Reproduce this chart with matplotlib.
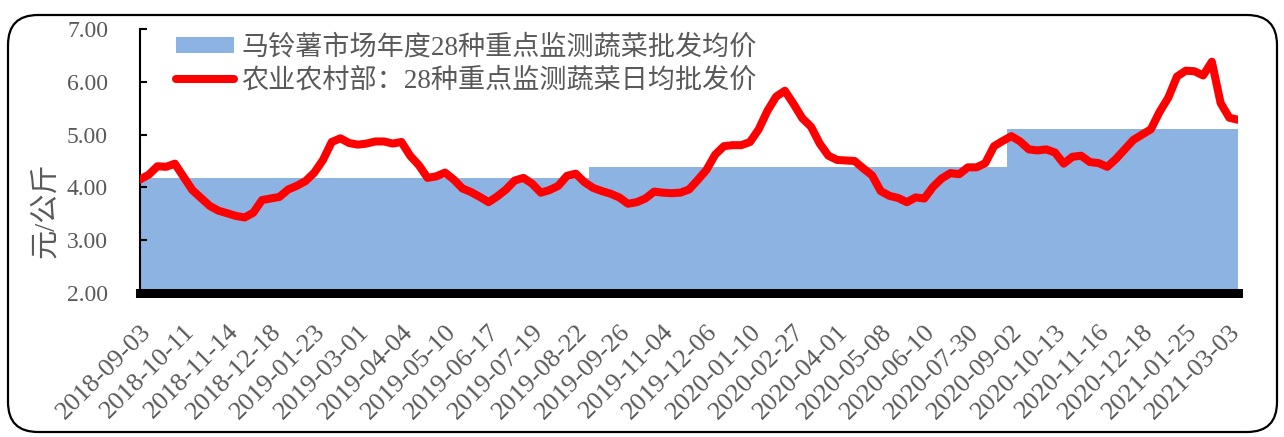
import numpy as np
import matplotlib
matplotlib.use('Agg')
import matplotlib.pyplot as plt
from matplotlib.patches import FancyBboxPatch, Patch
from matplotlib.lines import Line2D
from matplotlib.transforms import IdentityTransform

plt.rcParams['font.family'] = ['Liberation Serif', 'Noto Sans CJK SC']

# ---------------- data ----------------
tick_labels = [
    '2018-09-03', '2018-10-11', '2018-11-14', '2018-12-18', '2019-01-23',
    '2019-03-01', '2019-04-04', '2019-05-10', '2019-06-17', '2019-07-19',
    '2019-08-22', '2019-09-26', '2019-11-04', '2019-12-06', '2020-01-10',
    '2020-02-27', '2020-04-01', '2020-05-08', '2020-06-10', '2020-07-30',
    '2020-09-02', '2020-10-13', '2020-11-16', '2020-12-18', '2021-01-25',
    '2021-03-03',
]
days_per_tick = 25      # trading days between labelled dates
days_per_week = 5       # trading days between weekly readings

# 农业农村部 28种重点监测蔬菜日均批发价 (weekly readings, 元/公斤)
weekly_price = [
    4.15, 4.24, 4.40, 4.39, 4.45, 4.20, 3.95, 3.80, 3.65, 3.56,
    3.51, 3.46, 3.43, 3.52, 3.76, 3.79, 3.82, 3.96, 4.03, 4.12,
    4.28, 4.52, 4.86, 4.93, 4.84, 4.81, 4.83, 4.87, 4.87, 4.83,
    4.86, 4.60, 4.42, 4.18, 4.21, 4.28, 4.15, 3.98, 3.91, 3.82,
    3.72, 3.83, 3.96, 4.13, 4.18, 4.07, 3.90, 3.95, 4.03, 4.22,
    4.26, 4.10, 3.99, 3.93, 3.88, 3.81, 3.69, 3.72, 3.79, 3.92,
    3.90, 3.89, 3.90, 3.96, 4.14, 4.33, 4.62, 4.78, 4.80, 4.80,
    4.86, 5.10, 5.45, 5.72, 5.83, 5.58, 5.31, 5.15, 4.83, 4.60,
    4.52, 4.51, 4.50, 4.36, 4.23, 3.93, 3.84, 3.80, 3.72, 3.81,
    3.79, 4.01, 4.17, 4.27, 4.25, 4.38, 4.38, 4.46, 4.78, 4.88,
    4.97, 4.87, 4.72, 4.70, 4.72, 4.66, 4.45, 4.58, 4.60, 4.48,
    4.46, 4.39, 4.54, 4.72, 4.90, 5.00, 5.10, 5.43, 5.70, 6.10,
    6.21, 6.20, 6.12, 6.38, 5.60, 5.32, 5.28,
]

# 马铃薯市场年度 28种重点监测蔬菜批发均价
season_avg = [4.17, 4.38, 5.10]
season_weeks = [52, 48, 27]

legend_labels = ['马铃薯市场年度28种重点监测蔬菜批发均价',
                 '农业农村部：28种重点监测蔬菜日均批发价']
y_ticks = [2, 3, 4, 5, 6, 7]
y_label = '元/公斤'

# ---------------- style ----------------
W, H = 1284, 437
BLUE = '#8DB3E2'
RED = '#FF0000'
GRAY = '#595959'

fig = plt.figure(figsize=(W / 100, H / 100), dpi=100)
ax = fig.add_axes([140 / W, (H - 293) / H, 1098 / W, (293 - 29) / H])

x = np.arange(len(weekly_price)) * days_per_week
blue = np.repeat(season_avg, season_weeks)

ax.fill_between(x, 0, blue, step='mid', color=BLUE, lw=0, zorder=1)
ax.plot(x, weekly_price, color=RED, lw=5.8, solid_joinstyle='round',
        solid_capstyle='round', zorder=3)

ax.set_xlim(x[0], x[-1])
ax.set_ylim(2, 7)

ax.set_xticks(np.arange(len(tick_labels)) * days_per_tick)
ax.set_xticklabels(tick_labels, rotation=45, ha='right', va='top',
                   rotation_mode='anchor', fontsize=19, color=GRAY)
ax.tick_params(axis='x', length=0, pad=20)

ax.set_yticks(y_ticks)
ax.set_yticklabels([f'{v:.2f}' for v in y_ticks], fontsize=17, color=GRAY)
ax.tick_params(axis='y', direction='in', length=5, width=1.5, pad=23,
               color='black')

for s in ['top', 'right']:
    ax.spines[s].set_visible(False)
ax.spines['left'].set_linewidth(1.5)
ax.spines['bottom'].set_linewidth(6.5)
ax.spines['bottom'].set_capstyle('projecting')
ax.patch.set_alpha(0)

handles = [Patch(facecolor=BLUE, edgecolor='none'),
           Line2D([], [], color=RED, lw=5.8, solid_capstyle='round')]
ax.legend(handles, legend_labels, loc='upper left',
          bbox_to_anchor=(176 / W, 1 - 35 / H), bbox_transform=fig.transFigure,
          frameon=False, fontsize=19.5, handlelength=2.15, handleheight=0.5,
          handletextpad=0.26, labelspacing=0.27, borderpad=0, borderaxespad=0,
          labelcolor=GRAY)

fig.text(46 / W, 1 - 210 / H, y_label, rotation=90, ha='center', va='center',
         fontsize=21, color=GRAY)

border = FancyBboxPatch((8, 5), 1269, 417,
                        boxstyle='round,pad=0,rounding_size=30',
                        transform=IdentityTransform(), fill=False,
                        ec='black', lw=1.6)
fig.add_artist(border)

fig.savefig('out.png', dpi=100, facecolor='white')
